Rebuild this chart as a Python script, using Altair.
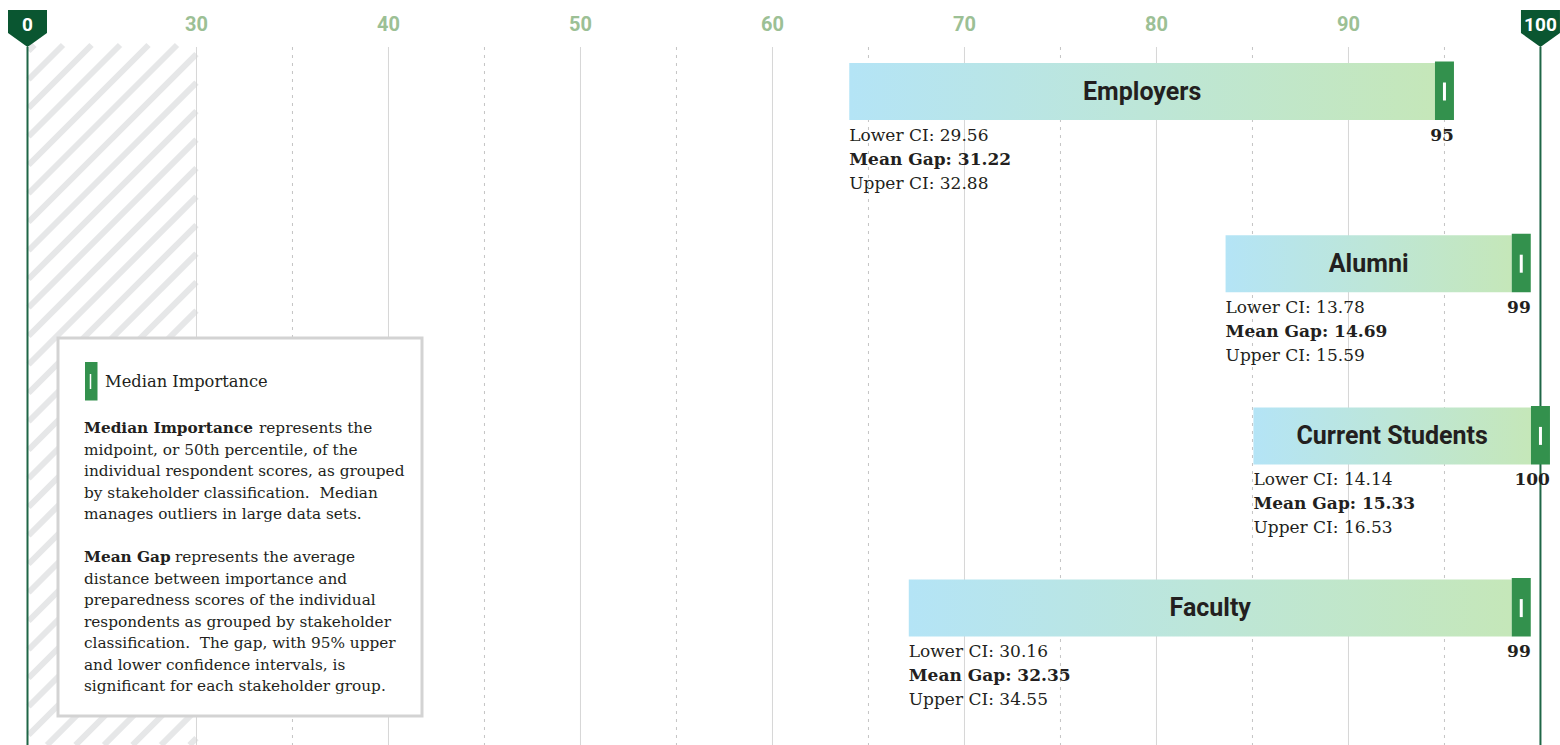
import altair as alt
import numpy as np
import pandas as pd

W, H = 1560, 745

# ---------------- data ----------------
groups = ["Employers", "Alumni", "Current Students", "Faculty"]
median_importance = [95, 99, 100, 99]
mean_gap = [31.22, 14.69, 15.33, 32.35]
lower_ci = [29.56, 13.78, 14.14, 30.16]
upper_ci = [32.88, 15.59, 16.53, 34.55]
bar_start = [64.0, 83.6, 85.05, 67.1]   # left end of each gap bar

major_ticks = [30, 40, 50, 60, 70, 80, 90]
minor_ticks = [35, 45, 55, 65, 75, 85, 95]
end_ticks = [0, 100]
AXIS_BREAK = 21.2   # the broken axis draws its "0" here

legend_key = "Median Importance"
para1_head = "Median Importance"
para1_lines = [
    "represents the",
    "midpoint, or 50th percentile, of the",
    "individual respondent scores, as grouped",
    "by stakeholder classification.\u00a0 Median",
    "manages outliers in large data sets.",
]
para2_head = "Mean Gap"
para2_lines = [
    "represents the average",
    "distance between importance and",
    "preparedness scores of the individual",
    "respondents as grouped by stakeholder",
    "classification.\u00a0 The gap, with 95% upper",
    "and lower confidence intervals, is",
    "significant for each stakeholder group.",
]

# ---------------- layout / style ----------------
PX_PER_UNIT = 19.2
X0_PX = 27.5
ROW0_PX = 91.5
ROW_STEP = 172.2
BAR_H = 57
MARK_W = 19
GRID_TOP = 47

GREEN = "#33914d"
DARK_GREEN = "#0a5631"
SAGE = "#9cc095"
TEXT = "#231f20"
SERIF = "DejaVu Serif"
SANS = "Roboto"


def px(v):
    return X0_PX + (v - AXIS_BREAK) * PX_PER_UNIT


XS = alt.Scale(domain=[AXIS_BREAK - X0_PX / PX_PER_UNIT, AXIS_BREAK + (W - X0_PX) / PX_PER_UNIT], nice=False, zero=False)
YS = alt.Scale(domain=[-ROW0_PX / ROW_STEP, (H - ROW0_PX) / ROW_STEP], reverse=True, nice=False, zero=False)
PXS = alt.Scale(domain=[0, W], nice=False, zero=False)
PYS = alt.Scale(domain=[0, H], reverse=True, nice=False, zero=False)

half_mark = MARK_W / 2 / PX_PER_UNIT
half_bar = BAR_H / 2 / ROW_STEP

df = pd.DataFrame({
    "group": groups,
    "median": median_importance,
    "gap": mean_gap,
    "lo": lower_ci,
    "hi": upper_ci,
    "start": bar_start,
    "row": list(range(len(groups))),
})

base = alt.Chart(df).transform_calculate(
    bar_end=f"datum.median - {half_mark}",
    mk_l=f"datum.median - {half_mark}",
    mk_r=f"datum.median + {half_mark}",
    y_top=f"datum.row - {half_bar}",
    y_bot=f"datum.row + {half_bar}",
    y_mt=f"datum.row - {half_bar + 1.5 / ROW_STEP}",
    w_top=f"datum.row - {9 / ROW_STEP}",
    w_bot=f"datum.row + {9 / ROW_STEP}",
    mid="(datum.start + datum.bar_end) / 2",
    lo_txt="'Lower CI: ' + format(datum.lo, '.2f')",
    gap_txt="'Mean Gap: ' + format(datum.gap, '.2f')",
    hi_txt="'Upper CI: ' + format(datum.hi, '.2f')",
    med_txt="format(datum.median, 'd')",
)


def X(f):
    return alt.X(f, type="quantitative", scale=XS, axis=None)


def Y(f):
    return alt.Y(f, type="quantitative", scale=YS, axis=None)


# ---------- ticks / grid ----------
ticks = pd.DataFrame({"label": end_ticks[:1] + major_ticks + end_ticks[1:]})
tick_base = alt.Chart(ticks).transform_calculate(
    pos=f"datum.label == 0 ? {AXIS_BREAK} : datum.label"
)
minor_df = pd.DataFrame({"pos": minor_ticks})

major_grid = tick_base.transform_filter(
    alt.FieldOneOfPredicate(field="label", oneOf=major_ticks)
).mark_rule(color="#d6d6d6", strokeWidth=1).encode(
    x=X("pos"), y=alt.value(GRID_TOP), y2=alt.value(H)
)
minor_grid = alt.Chart(minor_df).mark_rule(
    color="#c4c4c4", strokeWidth=1, strokeDash=[3, 5]
).encode(x=X("pos"), y=alt.value(GRID_TOP), y2=alt.value(H))

end_lines = tick_base.transform_filter(
    alt.FieldOneOfPredicate(field="label", oneOf=end_ticks)
).mark_rule(color="#1f6646", strokeWidth=2).encode(
    x=X("pos"), y=alt.value(GRID_TOP), y2=alt.value(H)
)

shield_path = "M-1,-0.95 L1,-0.95 L1,0.23 L0,0.95 L-1,0.23 Z"
shields = tick_base.transform_filter(
    alt.FieldOneOfPredicate(field="label", oneOf=end_ticks)
).mark_point(shape=shield_path, size=39 * 39, filled=True, color=DARK_GREEN, opacity=1, strokeWidth=0).encode(
    x=X("pos"), y=alt.value(28.5)
)
shield_text = tick_base.transform_filter(
    alt.FieldOneOfPredicate(field="label", oneOf=end_ticks)
).mark_text(font=SANS, fontWeight="bold", fontSize=19, color="white", baseline="middle", align="center").encode(
    x=X("pos"), y=alt.value(24.5), text="label:N"
)
top_labels = tick_base.transform_filter(
    alt.FieldOneOfPredicate(field="label", oneOf=major_ticks)
).mark_text(font=SANS, fontWeight="bold", fontSize=20, color=SAGE, baseline="middle", align="center").encode(
    x=X("pos"), y=alt.value(24.5), text="label:N"
)

# ---------- hatch for the broken 0-30 segment ----------
hx0, hx1, hy0, hy1 = px(AXIS_BREAK) + 1, px(30), 45, H
rows = []
for c in np.arange(hx0 + hy0 + 6, hx1 + hy1, 28.5):
    sx = max(hx0, c - hy1)
    ex = min(hx1, c - hy0)
    if ex > sx:
        rows.append({"x": sx, "y": c - sx, "x2": ex, "y2": c - ex})
hatch_df = pd.DataFrame(rows)
hatch = alt.Chart(hatch_df).mark_rule(color="#e6e7e8", strokeWidth=6, strokeCap="butt").encode(
    x=alt.X("x:Q", scale=PXS, axis=None),
    y=alt.Y("y:Q", scale=PYS, axis=None),
    x2="x2:Q",
    y2="y2:Q",
)

# ---------- bars ----------
gradient = alt.Gradient(
    gradient="linear",
    stops=[
        alt.GradientStop(color="#b4e4f6", offset=0),
        alt.GradientStop(color="#bde6d8", offset=0.5),
        alt.GradientStop(color="#c5e7b9", offset=1),
    ],
    x1=0, x2=1, y1=0, y2=0,
)
bars = base.mark_rect(fill=gradient).encode(
    x=X("start"), x2="bar_end:Q", y=Y("y_top"), y2="y_bot:Q"
)
markers = base.mark_rect(color=GREEN).encode(
    x=X("mk_l"), x2="mk_r:Q", y=Y("y_mt"), y2="y_bot:Q"
)
marker_line = base.mark_rule(color="white", strokeWidth=3).encode(
    x=X("median"), y=Y("w_top"), y2="w_bot:Q"
)
cat_labels = base.mark_text(
    font=SANS, fontWeight="bold", fontSize=25, color=TEXT, baseline="middle", align="center"
).encode(x=X("mid"), y=Y("row"), text="group:N")

stat_kw = dict(font=SERIF, fontSize=17, color=TEXT, baseline="middle", align="left")
lo_text = base.mark_text(dy=44, **stat_kw).encode(x=X("start"), y=Y("row"), text="lo_txt:N")
gap_text = base.mark_text(dy=68, fontWeight="bold", **stat_kw).encode(x=X("start"), y=Y("row"), text="gap_txt:N")
hi_text = base.mark_text(dy=92, **stat_kw).encode(x=X("start"), y=Y("row"), text="hi_txt:N")
med_text = base.mark_text(
    dy=44, dx=MARK_W / 2, font=SERIF, fontSize=17, fontWeight="bold", color=TEXT, baseline="middle", align="right"
).encode(x=X("median"), y=Y("row"), text="med_txt:N")

# ---------- legend box ----------
one = pd.DataFrame({"k": [0]})
box = alt.Chart(one).mark_rect(fill="white", stroke="#d3d3d3", strokeWidth=3).encode(
    x=alt.value(58), x2=alt.value(422), y=alt.value(338), y2=alt.value(716)
)
key_rect = alt.Chart(one).mark_rect(color=GREEN).encode(
    x=alt.value(85), x2=alt.value(97.5), y=alt.value(362), y2=alt.value(400.5)
)
key_line = alt.Chart(one).mark_rule(color="white", strokeWidth=1.5).encode(
    x=alt.value(90.5), y=alt.value(374), y2=alt.value(389)
)

LX = 84
LH = 21.5
P1_Y = 428
P2_Y = 557
leg_rows = [{"t": legend_key, "x": 105, "y": 382, "w": "key"}]
leg_rows.append({"t": para1_head, "x": LX, "y": P1_Y, "w": "bold"})
for i, t in enumerate(para1_lines):
    leg_rows.append({"t": t, "x": LX + 175 if i == 0 else LX, "y": P1_Y + i * LH, "w": "normal"})
leg_rows.append({"t": para2_head, "x": LX, "y": P2_Y, "w": "bold"})
for i, t in enumerate(para2_lines):
    leg_rows.append({"t": t, "x": LX + 91 if i == 0 else LX, "y": P2_Y + i * LH, "w": "normal"})
leg_df = pd.DataFrame(leg_rows)


def leg_layer(kind, weight, size):
    return alt.Chart(leg_df).transform_filter(alt.datum.w == kind).mark_text(
        font=SERIF, fontSize=size, fontWeight=weight, color=TEXT, baseline="middle", align="left"
    ).encode(
        x=alt.X("x:Q", scale=PXS, axis=None),
        y=alt.Y("y:Q", scale=PYS, axis=None),
        text="t:N",
    )


chart = alt.layer(
    hatch, major_grid, minor_grid, end_lines, shields, shield_text, top_labels,
    bars, markers, marker_line, cat_labels, lo_text, gap_text, hi_text, med_text,
    box, key_rect, key_line,
    leg_layer("key", "normal", 16.3), leg_layer("normal", "normal", 15.3), leg_layer("bold", "bold", 15.3),
).resolve_scale(
    x="independent", y="independent"
).properties(
    width=W, height=H, padding=0, background="white",
    autosize=alt.AutoSizeParams(type="none"),
).configure_view(stroke=None)

chart.save("out.html", embed_options={"renderer": "svg", "actions": False})
